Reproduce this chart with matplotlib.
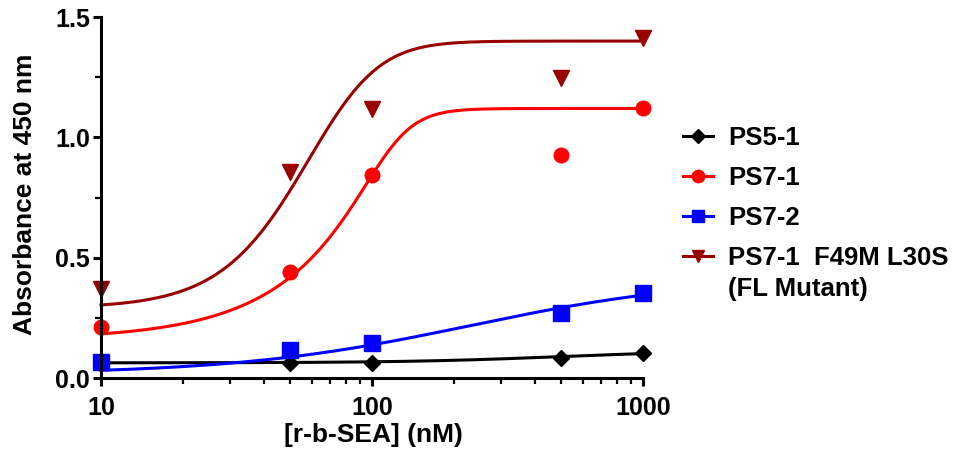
import numpy as np
import matplotlib
matplotlib.use('Agg')
import matplotlib.pyplot as plt
from matplotlib.ticker import FixedLocator, NullFormatter

matplotlib.rcParams['font.family'] = 'Liberation Sans'
matplotlib.rcParams['font.weight'] = 'bold'

# concentrations of r-b-SEA (nM)
conc = [10, 50, 100, 500, 1000]

# measured absorbance at 450 nm
ps5_1 = [0.065, 0.061, 0.064, 0.082, 0.105]
ps7_1 = [0.213, 0.442, 0.843, 0.926, 1.12]
ps7_2 = [0.068, 0.116, 0.144, 0.269, 0.352]
fl_mut = [0.368, 0.857, 1.116, 1.245, 1.411]

# asymmetric sigmoid fits:
# bottom, top, midpoint, hill, asymmetry, mirrored
fit_ps5_1 = (0.063, 0.115, 500, 1.5, 1.0, False)
fit_ps7_1 = (0.16, 1.12, 119.5, 6.0, 0.25, False)
fit_ps7_2 = (0.015, 0.42, 230, 1.0, 1.0, False)
fit_fl_mut = (0.29, 1.40, 77, 2.5, 2.0, True)

labels = ['PS5-1', 'PS7-1', 'PS7-2', 'PS7-1  F49M L30S']
label_extra = '(FL Mutant)'
colors = ['black', '#ff0000', '#0000ff', '#990000']
markers = ['D', 'o', 's', 'v']
msizes = [8.5, 10.5, 11, 11]


def sigmoid(x, p):
    bottom, top, c, hill, s, mirrored = p
    if mirrored:
        frac = 1 - (1 + (x / c) ** hill) ** (-s)
    else:
        frac = (1 + (c / x) ** hill) ** (-s)
    return bottom + (top - bottom) * frac


fig = plt.figure(figsize=(9.63, 4.65), dpi=100)
ax = fig.add_axes([101 / 963, 1 - 378 / 465, 542 / 963, 361 / 465])

xs = np.logspace(1, 3, 400)
series = [ps5_1, ps7_1, ps7_2, fl_mut]
fits = [fit_ps5_1, fit_ps7_1, fit_ps7_2, fit_fl_mut]
handles = []
for ys, p, lab, c, m, ms in zip(series, fits, labels, colors, markers, msizes):
    ax.plot(xs, sigmoid(xs, p), color=c, lw=2.2, clip_on=False)
    ax.plot(conc, ys, ls='none', marker=m, color=c, ms=ms, clip_on=False)
    h, = ax.plot([], [], color=c, lw=2.2, marker=m, ms=ms * 0.85, label=lab)
    handles.append(h)

ax.set_xscale('log')
ax.set_xlim(10, 1000)
ax.set_ylim(0, 1.5)
ax.set_xticks([10, 100, 1000])
ax.set_xticklabels(['10', '100', '1000'])
ax.set_yticks([0, 0.5, 1.0, 1.5])
ax.set_yticklabels(['0.0', '0.5', '1.0', '1.5'])
ax.yaxis.set_minor_locator(FixedLocator([0.25, 0.75, 1.25]))
ax.xaxis.set_minor_formatter(NullFormatter())

for s in ['top', 'right']:
    ax.spines[s].set_visible(False)
for s in ['left', 'bottom']:
    ax.spines[s].set_linewidth(2.2)
ax.tick_params(which='major', length=6, width=2.2, labelsize=18)
ax.tick_params(axis='x', which='major', pad=7)
ax.tick_params(axis='y', which='major', pad=2)
ax.tick_params(which='minor', length=4, width=1.6)

ax.set_xlabel('[r-b-SEA] (nM)', fontsize=19, fontweight='bold')
ax.set_ylabel('Absorbance at 450 nm', fontsize=19, fontweight='bold')
ax.xaxis.label.set_va('center')
ax.yaxis.label.set_va('center')
ax.xaxis.set_label_coords(0.502, -0.158)
ax.yaxis.set_label_coords(-0.14, 0.51)

leg = ax.legend(handles=handles, loc='upper left',
                bbox_to_anchor=(683 / 963, 1 - 126 / 465),
                bbox_transform=fig.transFigure,
                frameon=False, fontsize=18.5, handlelength=1.15,
                handletextpad=0.62, labelspacing=0.62, borderpad=0,
                borderaxespad=0)

# second line of the last legend entry, under its first line
fig.canvas.draw()
bb = leg.get_texts()[3].get_window_extent()
fig.text(bb.x0 / fig.bbox.width, (bb.y0 - 7) / fig.bbox.height, label_extra,
         ha='left', va='top', fontsize=18.5, fontweight='bold')

fig.savefig('out.png', dpi=100)
